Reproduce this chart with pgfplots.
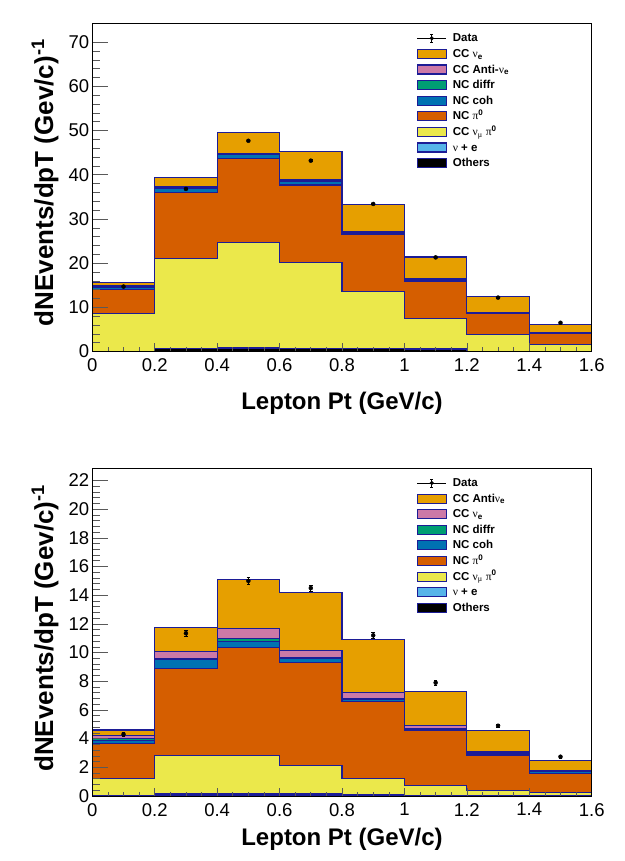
\documentclass[border=0pt]{standalone}
\usepackage{fontspec}
\setmainfont{Liberation Sans}
\newfontfamily\sym{Liberation Serif}
\usepackage{pgfplots}
\usepackage{pgfplotstable}
\pgfplotsset{compat=1.18}

\definecolor{cOrange}{HTML}{E69F00}
\definecolor{cPink}{HTML}{CC79A7}
\definecolor{cGreen}{HTML}{009E73}
\definecolor{cBlue}{HTML}{0072B2}
\definecolor{cVerm}{HTML}{D55E00}
\definecolor{cYellow}{HTML}{EBE84B}
\definecolor{cSky}{HTML}{56B4E9}
\definecolor{cBlack}{HTML}{000000}
\definecolor{edge}{RGB}{28,28,150}

\newcommand{\gr}[1]{{\sym\mdseries #1}}
\newcommand{\legbox}[1]{\addlegendimage{legend image code/.code={\draw[fill=#1, draw=edge, line width=1.1pt] (0pt,-4pt) rectangle (29pt,5pt);}}}
\newcommand{\legdata}{\addlegendimage{legend image code/.code={%
  \draw[black, line width=0.6pt] (0pt,0.5pt) -- (29pt,0.5pt);
  \draw[black, line width=0.6pt] (14.5pt,-3.5pt) -- (14.5pt,4.5pt);
  \draw[black, line width=0.6pt] (12.8pt,-3.5pt) -- (16.2pt,-3.5pt);
  \draw[black, line width=0.6pt] (12.8pt,4.5pt) -- (16.2pt,4.5pt);
  \fill[black] (14.5pt,0.5pt) circle (1.9pt);}}}

% cumulative stack tops (x10^3), upper panel
\pgfplotstableread{
x    ccnue  ccanue ncdif  nccoh  ncpi0  numupi0 nuel  oth
0    15.6   14.9   14.75  14.6   14.1   8.7     0.10  0.05
0.2  39.4   37.3   37.1   36.9   35.9   21.1    0.75  0.65
0.4  49.5   44.8   44.65  44.5   43.6   24.7    0.80  0.70
0.6  45.2   38.9   38.7   38.5   37.7   20.2    0.75  0.65
0.8  33.3   27.1   26.95  26.8   26.5   13.5    0.70  0.60
1.0  21.4   16.4   16.25  16.1   15.9   7.5     0.65  0.55
1.2  12.4   8.9    8.8    8.7    8.6    3.8     0.10  0.05
1.4  6.2    4.4    4.3    4.2    4.1    1.65    0.10  0.05
1.6  6.2    4.4    4.3    4.2    4.1    1.65    0.10  0.05
}\topstack
\pgfplotstableread{
x    y     e
0.1  14.7  0.2
0.3  36.8  0.2
0.5  47.7  0.2
0.7  43.2  0.2
0.9  33.4  0.2
1.1  21.3  0.2
1.3  12.2  0.15
1.5  6.5   0.15
}\topdata

% cumulative stack tops (x10^3), lower panel
\pgfplotstableread{
x    ccanue ccnue  ncdif  nccoh  ncpi0  numupi0 nuel  oth
0    4.6    4.2    4.0    3.9    3.65   1.2     0.03  0.02
0.2  11.75  10.1   9.6    9.5    8.9    2.8     0.14  0.10
0.4  15.1   11.7   11.0   10.8   10.37  2.8     0.16  0.12
0.6  14.2   10.16  9.68   9.6    9.3    2.1     0.14  0.10
0.8  10.9   7.2    6.8    6.72   6.6    1.2     0.08  0.06
1.0  7.3    4.9    4.7    4.63   4.56   0.74    0.06  0.05
1.2  4.54   3.1    3.06   3.0    2.86   0.39    0.03  0.02
1.4  2.5    1.8    1.75   1.7    1.6    0.23    0.02  0.01
1.6  2.5    1.8    1.75   1.7    1.6    0.23    0.02  0.01
}\botstack
\pgfplotstableread{
x    y     e
0.1  4.3   0.15
0.3  11.35 0.22
0.5  15.0  0.25
0.7  14.5  0.22
0.9  11.2  0.2
1.1  7.9   0.17
1.3  4.9   0.13
1.5  2.74  0.1
}\botdata

\pgfplotsset{
  hist/.style={const plot mark left, draw=edge, line width=1.1pt, fill=#1, forget plot},
  datapts/.style={only marks, mark=*, mark size=2pt, black, forget plot,
    error bars/.cd, y dir=both, y explicit,
    error bar style={line width=0.7pt, black},
    error mark options={rotate=90, mark size=1.8pt, line width=0.7pt, black}},
  rootaxis/.style={
    scale only axis, width=499.4pt,
    xmin=0, xmax=1.6, ymin=0,
    xtick={0,0.2,0.4,0.6,0.8,1,1.2,1.4,1.6},
    minor x tick num=3, minor y tick num=4,
    tick align=inside, xtick pos=bottom, ytick pos=left,
    major tick length=16pt, minor tick length=8pt,
    xtick style={/pgfplots/major tick length=8pt, /pgfplots/minor tick length=4pt},
    tick style={line width=0.6pt, gray!70!black},
    axis line style={line width=0.8pt, black},
    axis on top,
    scaled ticks=false,
    ticklabel style={font=\fontsize{18.5}{20}\selectfont},
    /pgf/number format/assume math mode=true,
    xticklabel style={anchor=north, inner sep=0pt, yshift=-7pt},
    yticklabel style={anchor=east, inner sep=0pt, xshift=-3pt},
    xlabel={Lepton Pt (GeV/c)},
    ylabel={dNEvents/dpT (Gev/c)\textsuperscript{-1}},
    legend cell align=left,
    legend style={draw=none, fill=none, anchor=north west, inner sep=0pt, outer sep=0pt,
      row sep=3.6pt, column sep=6pt,
      font=\fontsize{11.5}{13}\selectfont\bfseries,
      nodes={inner sep=0pt, text height=9pt, text depth=3pt}},
  }
}

\begin{document}
\begin{tikzpicture}
\useasboundingbox (0,0) rectangle (624pt,861pt);

% ---------------- upper panel ----------------
\begin{axis}[rootaxis,
  at={(92.3pt,509.5pt)}, anchor=south west, height=328.2pt,
  ymax=74.3, ytick={0,10,20,30,40,50,60,70},
  every axis x label/.style={at={(axis description cs:0.5,-0.159)}, anchor=center, inner sep=0pt, font=\fontsize{24}{28}\selectfont\bfseries},
  every axis y label/.style={at={(axis description cs:-0.0947,0.952)}, rotate=90, anchor=east, inner sep=0pt, font=\fontsize{26}{30}\selectfont\bfseries},
  legend style={at={(axis description cs:0.6496,0.971)}},
]
\legdata \addlegendentry{Data}
\legbox{cOrange} \addlegendentry{CC \gr{ν}\textsubscript{e}}
\legbox{cPink} \addlegendentry{CC Anti-\gr{ν}\textsubscript{e}}
\legbox{cGreen} \addlegendentry{NC diffr}
\legbox{cBlue} \addlegendentry{NC coh}
\legbox{cVerm} \addlegendentry{NC \gr{π}\textsuperscript{0}}
\legbox{cYellow} \addlegendentry{CC \gr{ν}\textsubscript{\gr{μ}} \gr{π}\textsuperscript{0}}
\legbox{cSky} \addlegendentry{\gr{ν} + e}
\legbox{cBlack} \addlegendentry{Others}

\addplot[hist=cOrange] table[x=x,y=ccnue]{\topstack} \closedcycle;
\addplot[hist=cPink] table[x=x,y=ccanue]{\topstack} \closedcycle;
\addplot[hist=cGreen] table[x=x,y=ncdif]{\topstack} \closedcycle;
\addplot[hist=cBlue] table[x=x,y=nccoh]{\topstack} \closedcycle;
\addplot[hist=cVerm] table[x=x,y=ncpi0]{\topstack} \closedcycle;
\addplot[hist=cYellow] table[x=x,y=numupi0]{\topstack} \closedcycle;
\addplot[hist=cSky] table[x=x,y=nuel]{\topstack} \closedcycle;
\addplot[hist=cBlack] table[x=x,y=oth]{\topstack} \closedcycle;
\addplot[datapts] table[x=x,y=y,y error=e]{\topdata};

\node[anchor=base west, inner sep=0pt, font=\fontsize{18.5}{20}\selectfont] at (rel axis cs:0,1) [yshift=5pt] {×10\textsuperscript{3}};
\end{axis}

% ---------------- lower panel ----------------
\begin{axis}[rootaxis,
  at={(92.3pt,65pt)}, anchor=south west, height=327.7pt,
  ymax=22.85, ytick={0,2,4,6,8,10,12,14,16,18,20,22},
  every axis x label/.style={at={(axis description cs:0.5,-0.131)}, anchor=center, inner sep=0pt, font=\fontsize{24}{28}\selectfont\bfseries},
  every axis y label/.style={at={(axis description cs:-0.0947,0.95)}, rotate=90, anchor=east, inner sep=0pt, font=\fontsize{26}{30}\selectfont\bfseries},
  legend style={at={(axis description cs:0.6496,0.972)}},
]
\legdata \addlegendentry{Data}
\legbox{cOrange} \addlegendentry{CC Anti\gr{ν}\textsubscript{e}}
\legbox{cPink} \addlegendentry{CC \gr{ν}\textsubscript{e}}
\legbox{cGreen} \addlegendentry{NC diffr}
\legbox{cBlue} \addlegendentry{NC coh}
\legbox{cVerm} \addlegendentry{NC \gr{π}\textsuperscript{0}}
\legbox{cYellow} \addlegendentry{CC \gr{ν}\textsubscript{\gr{μ}} \gr{π}\textsuperscript{0}}
\legbox{cSky} \addlegendentry{\gr{ν} + e}
\legbox{cBlack} \addlegendentry{Others}

\addplot[hist=cOrange] table[x=x,y=ccanue]{\botstack} \closedcycle;
\addplot[hist=cPink] table[x=x,y=ccnue]{\botstack} \closedcycle;
\addplot[hist=cGreen] table[x=x,y=ncdif]{\botstack} \closedcycle;
\addplot[hist=cBlue] table[x=x,y=nccoh]{\botstack} \closedcycle;
\addplot[hist=cVerm] table[x=x,y=ncpi0]{\botstack} \closedcycle;
\addplot[hist=cYellow] table[x=x,y=numupi0]{\botstack} \closedcycle;
\addplot[hist=cSky] table[x=x,y=nuel]{\botstack} \closedcycle;
\addplot[hist=cBlack] table[x=x,y=oth]{\botstack} \closedcycle;
\addplot[datapts] table[x=x,y=y,y error=e]{\botdata};

\node[anchor=base west, inner sep=0pt, font=\fontsize{18.5}{20}\selectfont] at (rel axis cs:0,1) [yshift=5pt] {×10\textsuperscript{3}};
\end{axis}
\end{tikzpicture}
\end{document}
